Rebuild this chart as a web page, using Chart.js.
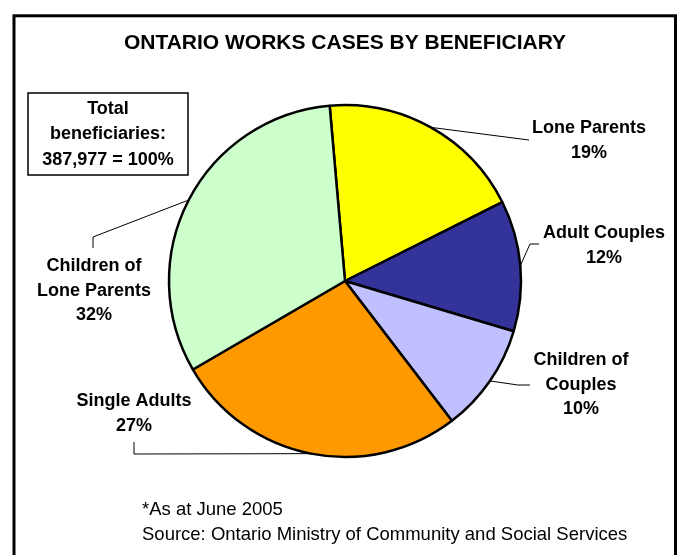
<!DOCTYPE html>
<html>
<head>
<meta charset="utf-8">
<script src="https://cdn.jsdelivr.net/npm/chart.js@4.4.1/dist/chart.umd.min.js"></script>
<style>
  html, body { margin: 0; padding: 0; background: #fff; }
  canvas { display: block; }
</style>
</head>
<body>
<canvas id="chart1" width="679" height="555"></canvas>
<script>
const categories = ['Lone Parents', 'Adult Couples', 'Children of Couples', 'Single Adults', 'Children of Lone Parents'];
const shares = [19, 12, 10, 27, 32];
const totalCases = '387,977';

const sliceColors = ['#ffff00', '#333399', '#c0c0ff', '#ff9900', '#ccffcc'];

// where each slice label sits, and the bends of its leader line
const labelSpots = [
  { lines: ['Lone Parents'], x: 589, y: 127, path: [[529, 140]] },
  { lines: ['Adult Couples'], x: 604, y: 232, path: [[530, 244], [539, 244]] },
  { lines: ['Children of', 'Couples'], x: 581, y: 359, path: [[518, 385], [530, 385]] },
  { lines: ['Single Adults'], x: 134, y: 400, path: [[134, 454], [134, 442]] },
  { lines: ['Children of', 'Lone Parents'], x: 94, y: 265, path: [[93, 237], [93, 248]] }
];

const FONT = '"Liberation Sans", Arial, sans-serif';

const decorations = {
  id: 'decorations',
  afterDraw(chart) {
    const ctx = chart.ctx;
    const meta = chart.getDatasetMeta(0);
    ctx.save();
    ctx.strokeStyle = '#000';
    ctx.fillStyle = '#000';

    // outer frame
    ctx.lineWidth = 3;
    ctx.strokeRect(14, 15.8, 661.5, 600);

    // title
    ctx.textAlign = 'center';
    ctx.textBaseline = 'alphabetic';
    ctx.font = 'bold 21px ' + FONT;
    ctx.fillText('ONTARIO WORKS CASES BY BENEFICIARY', 345, 49);

    // total box
    ctx.lineWidth = 1.5;
    ctx.strokeRect(28, 93, 160, 82);
    ctx.font = 'bold 18px ' + FONT;
    ['Total', 'beneficiaries:', totalCases + ' = 100%'].forEach((t, i) => {
      ctx.fillText(t, 108, 114 + i * 25.3);
    });

    // leader lines and slice labels
    meta.data.forEach((arc, i) => {
      const spot = labelSpots[i];
      const p = arc.getProps(['x', 'y', 'startAngle', 'endAngle', 'outerRadius'], true);
      const mid = (p.startAngle + p.endAngle) / 2;
      const ax = p.x + Math.cos(mid) * p.outerRadius;
      const ay = p.y + Math.sin(mid) * p.outerRadius;
      ctx.beginPath();
      ctx.moveTo(ax, ay);
      spot.path.forEach(pt => ctx.lineTo(pt[0], pt[1]));
      ctx.lineWidth = 1;
      ctx.stroke();

      spot.lines.concat(shares[i] + '%').forEach((t, j) => {
        ctx.fillText(t, spot.x, spot.y + 6.4 + j * 24.5);
      });
    });

    // footnote
    ctx.textAlign = 'left';
    ctx.font = '18.5px ' + FONT;
    ctx.fillText('*As at June 2005', 142, 515);
    ctx.fillText('Source: Ontario Ministry of Community and Social Services', 142, 540);
    ctx.restore();
  }
};

new Chart(document.getElementById('chart1'), {
  type: 'pie',
  data: {
    labels: categories,
    datasets: [{
      data: shares,
      backgroundColor: sliceColors,
      borderColor: '#000',
      borderWidth: 2.5,
      radius: 176,
      rotation: -5
    }]
  },
  options: {
    responsive: false,
    animation: false,
    layout: { padding: { left: 100, right: 89, top: 100, bottom: 93 } },
    plugins: {
      legend: { display: false },
      tooltip: { enabled: false },
      title: { display: false }
    }
  },
  plugins: [decorations]
});
</script>
</body>
</html>
